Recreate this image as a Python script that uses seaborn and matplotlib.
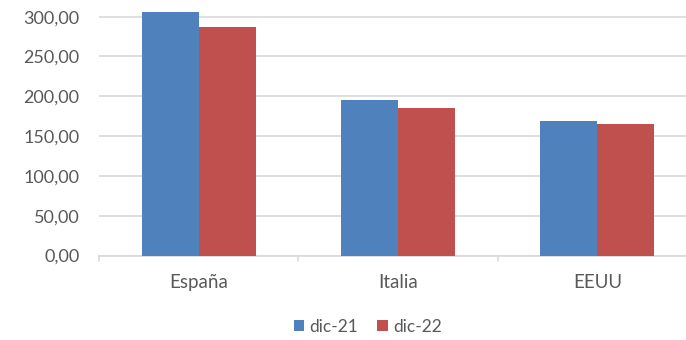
import matplotlib
matplotlib.use("Agg")
import matplotlib.pyplot as plt
import seaborn as sns
import pandas as pd
from matplotlib.patches import Patch

categories = ["España", "Italia", "EEUU"]
series_names = ["dic-21", "dic-22"]
dic21 = [306.2, 195.3, 168.9]
dic22 = [287.0, 184.8, 165.1]
ytick_values = [0, 50, 100, 150, 200, 250, 300]

colors = ["#4F81BD", "#C0504D"]
text_color = "#595959"
grid_color = "#D9D9D9"

df = pd.DataFrame({
    "pais": categories * 2,
    "serie": [series_names[0]] * 3 + [series_names[1]] * 3,
    "valor": dic21 + dic22,
})

sns.set_theme(style="white")
plt.rcParams["font.family"] = ["Lato", "DejaVu Sans"]

fig = plt.figure(figsize=(6.86, 3.40), dpi=100)
ax = fig.add_axes([99 / 686, 84.5 / 340, 598 / 686, 254.8 / 340])

sns.barplot(data=df, x="pais", y="valor", hue="serie", palette=colors,
            width=0.572, gap=0, linewidth=0, saturation=1, ax=ax,
            legend=False, zorder=3)

ax.set_ylim(0, 320)
ax.set_xlim(-0.5, 2.5)
ax.set_yticks(ytick_values)
ax.set_yticklabels([f"{v:.2f}".replace(".", ",") for v in ytick_values],
                   fontsize=13, color=text_color)
ax.yaxis.grid(True, color=grid_color, linewidth=1.2, zorder=0)
ax.set_axisbelow(True)
ax.tick_params(axis="y", length=0, pad=14)
ax.set_xlabel("")
ax.set_ylabel("")
ax.set_xticks([0, 1, 2])
ax.set_xticklabels(categories, fontsize=13.5, color=text_color)
ax.tick_params(axis="x", length=0, pad=13)
for b in [-0.5, 0.5, 1.5, 2.5]:
    ax.plot([b, b], [0, -7], color=grid_color, lw=1.2, clip_on=False)
for s in ["top", "right", "left"]:
    ax.spines[s].set_visible(False)
ax.spines["bottom"].set_color(grid_color)
ax.spines["bottom"].set_linewidth(1.2)

handles = [Patch(facecolor=c, edgecolor="none") for c in colors]
fig.legend(handles, series_names, loc="center", bbox_to_anchor=(0.536, 0.038),
           ncol=2, frameon=False, fontsize=12.5, labelcolor=text_color,
           handlelength=0.6, handleheight=0.6, handletextpad=0.3,
           columnspacing=1.1)

fig.savefig("out.png", dpi=100)
